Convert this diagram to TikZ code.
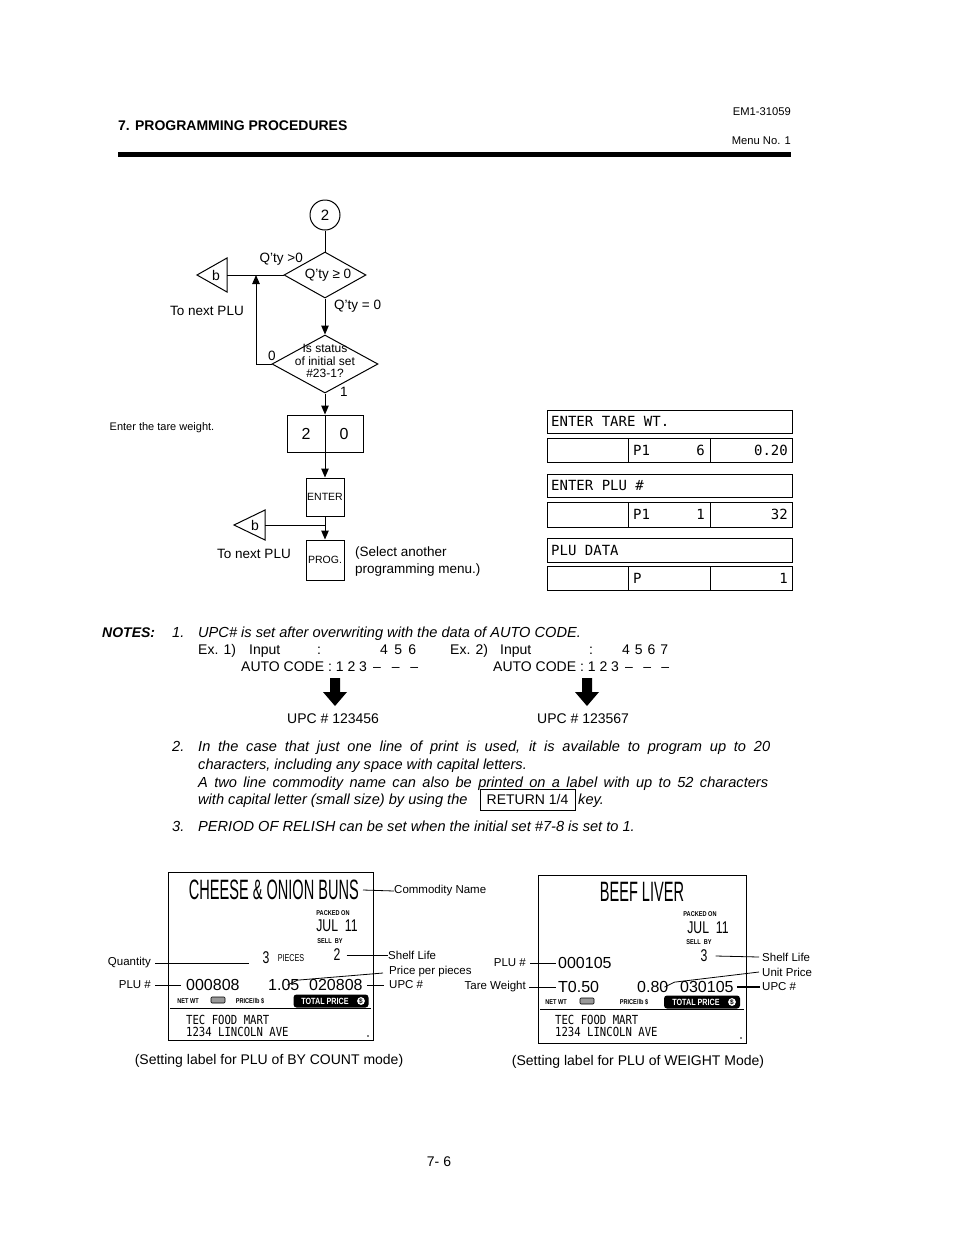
\documentclass[tikz,border=0pt]{standalone}
\usepackage{fontspec}
\setmainfont{Liberation Sans}
\newfontfamily\dispfont{DejaVu Sans Mono}
\newfontfamily\condfont[FakeStretch=0.52]{Liberation Sans}
\newfontfamily\condmfont[FakeStretch=0.72]{Liberation Sans}
\newfontfamily\narrowfont[FakeStretch=0.8]{Liberation Sans}
\newfontfamily\lmonofont[FakeStretch=0.85]{DejaVu Sans Mono}
\usetikzlibrary{arrows.meta,shapes.geometric}
\newcommand{\fsz}[1]{\fontsize{#1}{#1}\selectfont}
\begin{document}
\begin{tikzpicture}[x=1pt,y=-1pt,
  ln/.style={line width=1pt},
  arr/.style={line width=1pt,-{Triangle[length=9pt,width=7.5pt]}},
  t/.style={inner sep=0pt,font=\fsz{14}},
  ti/.style={inner sep=0pt,font=\fsz{14.6}\itshape},
  lt/.style={inner sep=0pt,font=\fsz{11.5}},
  cell/.style={draw,line width=1pt,inner sep=0pt,anchor=north west},
  dt/.style={inner sep=0pt,font=\dispfont\fsz{14}},
  ldr/.style={line width=0.8pt},
  big/.style={inner sep=0pt,font=\condfont\fsz{28}},
  mid/.style={inner sep=0pt,font=\condmfont\fsz{17}},
  tiny/.style={inner sep=0pt,font=\narrowfont\bfseries\fsz{7}},
  lnum/.style={inner sep=0pt,font=\fsz{16}},
  lmono/.style={inner sep=0pt,font=\lmonofont\fsz{12.5}},
  kbox/.style={draw,line width=1pt,inner sep=0pt},
  dia/.style={diamond,draw,line width=1pt,inner sep=0pt}]
\useasboundingbox (0,0) rectangle (954,1235);
\fill[white] (0,0) rectangle (954,1235);

% ---------- header ----------
\node[inner sep=0pt,font=\fsz{14}\bfseries,anchor=base west] (hd) at (118,130) {7. PROGRAMMING PROCEDURES};
\node[inner sep=0pt,font=\fsz{11.2},anchor=base east] (em) at (791,115) {EM1-31059};
\node[inner sep=0pt,font=\fsz{11.2},anchor=base east] (mn) at (791,144) {Menu No. 1};
\fill (118,152) rectangle (791,157);

% ---------- flowchart ----------
\node[circle,draw,line width=1pt,minimum size=30pt,inner sep=0pt,font=\fsz{15}] (c2) at (325,215) {2};
\node[dia,minimum width=82pt,minimum height=46pt] (d1) at (325,275) {};
\node[inner sep=0pt,font=\fsz{13.5}] (d1t) at (328,275) {Q'ty ≥ 0};
\node[inner sep=0pt,font=\fsz{13.5},anchor=east] (qg) at (303,259) {Q'ty >0};
\node[inner sep=0pt,font=\fsz{13.5},anchor=west] (qe) at (334,306) {Q'ty = 0};
\draw[ln] (227,258) -- (197,275) -- (227,292) -- cycle;
\coordinate (b1e) at (227,275);
\node[inner sep=0pt,font=\fsz{14}] (b1) at (216,275) {b};
\node[inner sep=0pt,font=\fsz{13.5}] (tn1) at (207,311) {To next PLU};
\node[dia,minimum width=106pt,minimum height=58pt] (d2) at (325,364) {};
\node[inner sep=0pt,font=\fontsize{12}{12.5}\selectfont,align=center] (d2t) at (325,361) {Is status\\of initial set\\\#23-1?};
\node[inner sep=0pt,font=\fsz{13.5}] (l0) at (272,356) {0};
\node[inner sep=0pt,font=\fsz{13.5}] (l1) at (344,392) {1};
\coordinate (j1) at (256,275);
\draw[ln] (c2.south) -- (d1.north);
\draw[ln] (d1.west) -- (b1e);
\draw[arr] (d2.west) -| (j1);
\draw[arr] (d1.south) -- (d2.north);
\node[kbox,minimum width=76pt,minimum height=37pt] (k20) at (325,433.5) {};
\draw[ln] (k20.north) -- (k20.south);
\node[inner sep=0pt,font=\fsz{16}] (k2) at (306,434) {2};
\node[inner sep=0pt,font=\fsz{16}] (k0) at (344,434) {0};
\draw[arr] (d2.south) -- (k20.north);
\node[inner sep=0pt,font=\fsz{11}] (etw) at (162,428) {Enter the tare weight.};
\node[kbox,minimum width=38pt,minimum height=38pt,font=\fsz{10.5}] (enter) at (325,497) {ENTER};
\draw[arr] (k20.south) -- (enter.north);
\node[kbox,minimum width=38pt,minimum height=40pt,font=\fsz{10.5}] (prog) at (325,560) {PROG.};
\draw[arr] (enter.south) -- (prog.north);
\draw[ln] (265,510) -- (234,525) -- (265,540) -- cycle;
\coordinate (b2e) at (265,525);
\coordinate (j2) at (325,525);
\node[inner sep=0pt,font=\fsz{14}] (b2) at (255,525) {b};
\draw[ln] (b2e) -- (j2);
\node[inner sep=0pt,font=\fsz{13.5}] (tn2) at (254,554) {To next PLU};
\node[inner sep=0pt,font=\fontsize{13.5}{17}\selectfont,align=left,anchor=north west] (sel) at (355,547) {(Select another\\programming menu.)};

% ---------- display ----------
\node[cell,minimum width=245pt,minimum height=23pt] (r1) at (547,410) {};
\node[dt,anchor=west] (r1t) at (551,421.5) {ENTER TARE WT.};
\node[cell,minimum width=81pt,minimum height=24pt] (r2a) at (547,438) {};
\node[cell,minimum width=82pt,minimum height=24pt] (r2b) at (628,438) {};
\node[cell,minimum width=82pt,minimum height=24pt] (r2c) at (710,438) {};
\node[dt,anchor=west] (r2p) at (633,450) {P1};
\node[dt,anchor=east] (r2n) at (705,450) {6};
\node[dt,anchor=east] (r2v) at (788,450) {0.20};
\node[cell,minimum width=245pt,minimum height=23pt] (r3) at (547,474) {};
\node[dt,anchor=west] (r3t) at (551,485.5) {ENTER PLU \#};
\node[cell,minimum width=81pt,minimum height=25pt] (r4a) at (547,502) {};
\node[cell,minimum width=82pt,minimum height=25pt] (r4b) at (628,502) {};
\node[cell,minimum width=82pt,minimum height=25pt] (r4c) at (710,502) {};
\node[dt,anchor=west] (r4p) at (633,514.5) {P1};
\node[dt,anchor=east] (r4n) at (705,514.5) {1};
\node[dt,anchor=east] (r4v) at (788,514.5) {32};
\node[cell,minimum width=245pt,minimum height=24pt] (r5) at (547,538) {};
\node[dt,anchor=west] (r5t) at (551,550) {PLU DATA};
\node[cell,minimum width=81pt,minimum height=24pt] (r6a) at (547,566) {};
\node[cell,minimum width=82pt,minimum height=24pt] (r6b) at (628,566) {};
\node[cell,minimum width=82pt,minimum height=24pt] (r6c) at (710,566) {};
\node[dt,anchor=west] (r6p) at (633,578) {P};
\node[dt,anchor=east] (r6v) at (788,578) {1};

% ---------- notes ----------
\node[inner sep=0pt,font=\fsz{14}\bfseries\itshape,anchor=base west] (notes) at (102,637) {NOTES:};
\node[ti,anchor=base west] (n1) at (172,637) {1.};
\node[ti,anchor=base west] (n1t) at (198,637) {UPC\# is set after overwriting with the data of AUTO CODE.};
\node[t,anchor=base west] (e1) at (198,654) {Ex. 1)};
\node[t,anchor=base west] (e1i) at (249,654) {Input};
\node[t,anchor=base west] (e1c) at (317,654) {:};
\node[t,anchor=base west] (e1v) at (380,654) {\makebox[36pt][s]{4 5 6}};
\node[t,anchor=base west] (e2) at (450,654) {Ex. 2)};
\node[t,anchor=base west] (e2i) at (500,654) {Input};
\node[t,anchor=base west] (e2c) at (589,654) {:};
\node[t,anchor=base west] (e2v) at (622,654) {\makebox[46pt][s]{4 5 6 7}};
\node[t,anchor=base west] (a1) at (241,671) {AUTO CODE : 1 2 3};
\node[t,anchor=base west] (a1d) at (373,671) {\makebox[45pt][s]{-- -- --}};
\node[t,anchor=base west] (a2) at (493,671) {AUTO CODE : 1 2 3};
\node[t,anchor=base west] (a2d) at (625,671) {\makebox[44pt][s]{-- -- --}};
\fill (330,678) -- (340,678) -- (340,692) -- (347,692) -- (335,706) -- (323,692) -- (330,692) -- cycle;
\fill (582,678) -- (592,678) -- (592,692) -- (599,692) -- (587,706) -- (575,692) -- (582,692) -- cycle;
\node[t,anchor=base west] (u1) at (287,723) {UPC \# 123456};
\node[t,anchor=base west] (u2) at (537,723) {UPC \# 123567};
\node[ti,anchor=base west] (n2) at (172,751) {2.};
\node[ti,anchor=base west] (n2a) at (198,751) {\makebox[572pt][s]{In the case that just one line of print is used, it is available to program up to 20}};
\node[ti,anchor=base west] (n2b) at (198,769) {characters, including any space with capital letters.};
\node[ti,anchor=base west] (n2c) at (198,787) {\makebox[570pt][s]{A two line commodity name can also be printed on a label with up to 52 characters}};
\node[ti,anchor=base west] (n2d) at (198,804) {with capital letter (small size) by using the};
\node[kbox,minimum width=95pt,minimum height=21pt,font=\fsz{14}] (ret) at (527.5,799.5) {RETURN 1/4};
\node[ti,anchor=base west] (key) at (578,804) {key.};
\node[ti,anchor=base west] (n3) at (172,831) {3.};
\node[ti,anchor=base west] (n3t) at (198,831) {PERIOD OF RELISH can be set when the initial set \#7-8 is set to 1.};

% ---------- label 1 ----------
\node[draw,line width=1pt,minimum width=205pt,minimum height=168pt,inner sep=0pt] (lab1) at (270.5,956) {};
\node[big,anchor=east] (cn1) at (359,890) {CHEESE \& ONION BUNS};
\node[lt,anchor=west] (cnm) at (394,891) {Commodity Name};
\draw[ldr] ([xshift=4pt]cn1.east) -- (cnm.west);
\node[tiny] (pk1) at (333,913) {PACKED ON};
\node[mid] (jl1) at (337,926) {JUL\ \ 11};
\node[tiny] (sb1) at (330,941) {SELL\ \ BY};
\node[mid] (q3) at (266,958) {3};
\node[inner sep=0pt,font=\condmfont\fsz{10}] (pcs) at (291,958) {PIECES};
\node[mid] (sl2) at (337,955) {2};
\node[lt,anchor=west] (shl1) at (388,955) {Shelf Life};
\draw[ldr] ([xshift=6pt]sl2.east) -- (shl1.west);
\node[lt,anchor=east] (qty) at (151,963) {Quantity};
\coordinate (qend) at (249,963);
\draw[ldr] ([xshift=4pt]qty.east) -- (qend);
\node[lt,anchor=west] (ppp) at (389,972) {Price per pieces};
\node[lnum,anchor=west] (p105) at (268,985) {1.05};
\draw[ldr] ([xshift=-12pt,yshift=-6pt]p105.north east) -- ([xshift=-2pt,yshift=-1pt]p105.north east) -- ([xshift=-6pt,yshift=-1pt]ppp.west -| ppp.west);
\node[lt,anchor=east] (plu1) at (151,985) {PLU \#};
\node[lnum,anchor=west] (pn1) at (186,985) {000808};
\draw[ldr] ([xshift=4pt]plu1.east) -- ([xshift=-5pt]pn1.west);
\node[lnum,anchor=west] (up1) at (309,985) {020808};
\node[lt,anchor=west] (upc1) at (389,985) {UPC \#};
\draw[ldr] ([xshift=4pt]up1.east) -- ([xshift=-5pt]upc1.west);
\node[tiny] (nw1) at (188,1001) {NET WT};
\node[draw,line width=0.6pt,fill=black!40,minimum width=14pt,minimum height=6pt,inner sep=0pt,rounded corners=1pt] (ic1) at (218,1000) {};
\node[tiny] (pl1) at (250,1001) {PRICE/lb \$};
\node[fill=black,rounded corners=3pt,minimum width=75pt,minimum height=13pt,inner sep=0pt] (tp1) at (331,1001) {};
\node[inner sep=0pt,text=white,font=\narrowfont\bfseries\fsz{9}] (tpt1) at (325,1001) {TOTAL PRICE};
\node[circle,fill=white,inner sep=0.5pt,font=\bfseries\fsz{6.5}] (dl1) at (361,1001) {\$};
\draw[line width=1.5pt] (170,1008.5) -- (371,1008.5);
\node[lmono,anchor=west] (tf1) at (186,1020) {TEC FOOD MART};
\node[lmono,anchor=west] (ad1) at (186,1032) {1234 LINCOLN AVE};
\fill (368,1036) circle (0.9pt);
\node[t] (cap1) at (269,1061) {(Setting label for PLU of BY COUNT mode)};

% ---------- label 2 ----------
\node[draw,line width=1pt,minimum width=208pt,minimum height=168pt,inner sep=0pt] (lab2) at (642,959) {};
\node[big] (cn2) at (642,892) {BEEF LIVER};
\node[tiny] (pk2) at (700,914) {PACKED ON};
\node[mid] (jl2) at (708,928) {JUL\ \ 11};
\node[tiny] (sb2) at (699,942) {SELL\ \ BY};
\node[mid] (sl3) at (704,956) {3};
\node[lt,anchor=west] (shl2) at (762,957) {Shelf Life};
\draw[ldr] ([xshift=8pt]sl3.east) -- ([xshift=-3pt]shl2.west);
\node[lt,anchor=east] (plu2) at (526,963) {PLU \#};
\node[lnum,anchor=west] (pn2) at (558,963) {000105};
\draw[ldr] ([xshift=4pt]plu2.east) -- ([xshift=-2pt]pn2.west);
\node[lt,anchor=west] (unp) at (762,972) {Unit Price};
\node[lnum,anchor=west] (p080) at (637,987) {0.80};
\draw[ldr] ([xshift=-4pt,yshift=-6pt]p080.north east) -- ([xshift=6pt,yshift=-1pt]p080.north east) -- ([xshift=-3pt]unp.west);
\node[lt,anchor=east] (tw) at (526,987) {Tare Weight};
\node[lnum,anchor=west] (tw2) at (558,987) {T0.50};
\draw[ldr] ([xshift=3pt]tw.east) -- ([xshift=-2pt]tw2.west);
\node[lnum,anchor=west] (up2) at (680,987) {030105};
\node[lt,anchor=west] (upc2) at (762,987) {UPC \#};
\draw[line width=2pt] ([xshift=3pt]up2.east) -- ([xshift=-2pt]upc2.west);
\node[tiny] (nw2) at (556,1002) {NET WT};
\node[draw,line width=0.6pt,fill=black!40,minimum width=14pt,minimum height=6pt,inner sep=0pt,rounded corners=1pt] (ic2) at (587,1001) {};
\node[tiny] (pl2) at (634,1002) {PRICE/lb \$};
\node[fill=black,rounded corners=3pt,minimum width=76pt,minimum height=13pt,inner sep=0pt] (tp2) at (702,1002) {};
\node[inner sep=0pt,text=white,font=\narrowfont\bfseries\fsz{9}] (tpt2) at (696,1002) {TOTAL PRICE};
\node[circle,fill=white,inner sep=0.5pt,font=\bfseries\fsz{6.5}] (dl2) at (732,1002) {\$};
\draw[line width=1.5pt] (540,1009.5) -- (744,1009.5);
\node[lmono,anchor=west] (tf2) at (555,1020) {TEC FOOD MART};
\node[lmono,anchor=west] (ad2) at (555,1032) {1234 LINCOLN AVE};
\fill (741,1038) circle (0.9pt);
\node[t] (cap2) at (638,1062) {(Setting label for PLU of WEIGHT Mode)};

% ---------- page number ----------
\node[t] (pg) at (439,1162) {7- 6};
\end{tikzpicture}
\end{document}
